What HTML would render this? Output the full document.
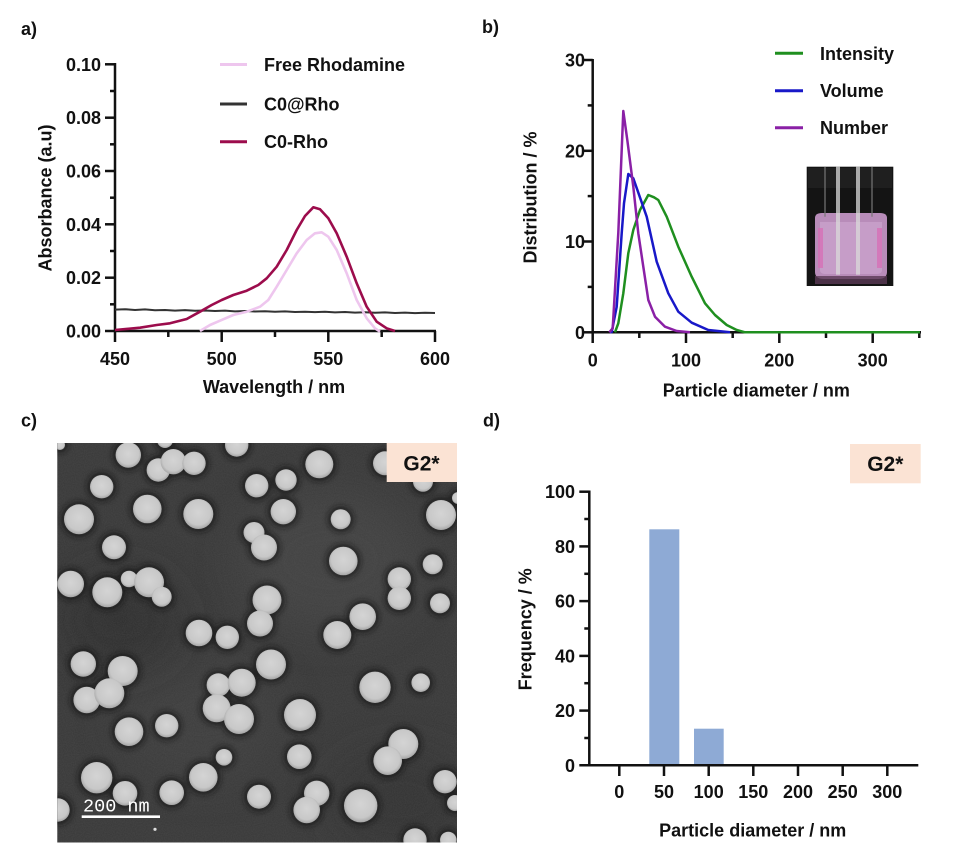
<!DOCTYPE html>
<html><head><meta charset="utf-8"><style>
html,body{margin:0;padding:0;background:#fff;}
svg{display:block;}
text{font-family:"Liberation Sans",Arial,sans-serif;font-weight:bold;font-size:18px;fill:#111;}
</style></head><body>
<svg width="955" height="858" viewBox="0 0 955 858" xmlns="http://www.w3.org/2000/svg">
<defs>
<clipPath id="temclip"><rect x="57.3" y="443" width="399.7" height="399.5"/></clipPath>
<filter id="blur3" x="-50%" y="-50%" width="200%" height="200%"><feGaussianBlur stdDeviation="3"/></filter>
<filter id="blur20" x="-50%" y="-50%" width="200%" height="200%"><feGaussianBlur stdDeviation="22"/></filter>
<filter id="noise" x="0" y="0" width="100%" height="100%">
<feTurbulence type="fractalNoise" baseFrequency="0.9" numOctaves="1" seed="3" result="t"/>
<feColorMatrix type="matrix" values="0 0 0 0 0.15  0 0 0 0 0.15  0 0 0 0 0.15  0 0 0 0.3 0"/>
</filter>
<radialGradient id="pg" cx="50%" cy="45%" r="55%">
<stop offset="0" stop-color="#d4d4d4"/><stop offset="0.75" stop-color="#c8c8c8"/><stop offset="1" stop-color="#a5a5a5"/>
</radialGradient>
</defs>
<rect width="955" height="858" fill="#fff"/>

<!-- ================= PANEL A ================= -->
<text x="21" y="35">a)</text>
<g stroke="#111" stroke-width="2.5" fill="none">
<line x1="115" y1="63" x2="115" y2="332"/>
<line x1="114" y1="331" x2="436" y2="331"/>
<line x1="105" y1="331" x2="115" y2="331"/>
<line x1="105" y1="277.7" x2="115" y2="277.7"/>
<line x1="105" y1="224.3" x2="115" y2="224.3"/>
<line x1="105" y1="171" x2="115" y2="171"/>
<line x1="105" y1="117.7" x2="115" y2="117.7"/>
<line x1="105" y1="64.3" x2="115" y2="64.3"/>
<line x1="110" y1="304.3" x2="115" y2="304.3"/>
<line x1="110" y1="251" x2="115" y2="251"/>
<line x1="110" y1="197.7" x2="115" y2="197.7"/>
<line x1="110" y1="144.3" x2="115" y2="144.3"/>
<line x1="110" y1="91" x2="115" y2="91"/>
<line x1="115" y1="331" x2="115" y2="342"/>
<line x1="221.7" y1="331" x2="221.7" y2="342"/>
<line x1="328.3" y1="331" x2="328.3" y2="342"/>
<line x1="435" y1="331" x2="435" y2="342"/>
<line x1="168.3" y1="331" x2="168.3" y2="337"/>
<line x1="275" y1="331" x2="275" y2="337"/>
<line x1="381.7" y1="331" x2="381.7" y2="337"/>
</g>
<g text-anchor="end">
<text x="101" y="337.5">0.00</text>
<text x="101" y="284.2">0.02</text>
<text x="101" y="230.8">0.04</text>
<text x="101" y="177.5">0.06</text>
<text x="101" y="124.2">0.08</text>
<text x="101" y="70.8">0.10</text>
</g>
<g text-anchor="middle">
<text x="115" y="365">450</text>
<text x="221.7" y="365">500</text>
<text x="328.3" y="365">550</text>
<text x="435" y="365">600</text>
<text x="274" y="393">Wavelength / nm</text>
<text transform="translate(51.5,198) rotate(-90)">Absorbance (a.u)</text>
</g>
<polyline fill="none" stroke="#333" stroke-width="2" points="115,309.6 125,309.2 135,310 145,309.4 155,310.3 165,310 175,310.6 185,310.1 195,310.8 205,310.5 215,311 225,310.6 235,311.4 245,311 255,311.5 265,311.2 275,311.8 285,311.4 295,312 305,311.7 315,312.1 325,311.8 335,312.4 345,312 355,312.6 365,312.3 375,312.8 385,312.4 395,313 405,312.6 415,313.1 425,312.8 435,313"/>
<polyline fill="none" stroke="#eec6ee" stroke-width="2.6" stroke-linejoin="round" points="200,331 210,325 220,320.7 233.3,315 246.7,311.7 260,306.7 268.3,300 276.7,286.7 286.7,270 296.7,253.3 306.7,240 315,233.3 321.7,232.3 328.3,236.7 336.7,250 346.7,273.3 356.7,300 366.7,318.3 375,328.3 380,331.7"/>
<polyline fill="none" stroke="#9c0c4c" stroke-width="2.6" stroke-linejoin="round" points="115,330 140,327.7 156.7,325 170,323.3 186.7,319 200,311.7 211.7,305 221.7,300 233.3,295 246.7,290.7 258.3,285 266.7,278.3 276.7,266.7 286.7,250 296.7,230 305,216 313.3,207.3 320,209.3 328.3,218.3 336.7,233.3 346.7,256.7 356.7,283.3 366.7,306.7 376.7,321.7 386.7,328.3 395,331"/>
<line x1="220" y1="64.5" x2="247" y2="64.5" stroke="#eec6ee" stroke-width="3"/>
<line x1="220" y1="104" x2="247" y2="104" stroke="#333" stroke-width="3"/>
<line x1="220" y1="141.7" x2="247" y2="141.7" stroke="#9c0c4c" stroke-width="3"/>
<text x="264" y="71">Free Rhodamine</text>
<text x="264" y="110.5">C0@Rho</text>
<text x="264" y="148">C0-Rho</text>

<!-- ================= PANEL B ================= -->
<text x="482" y="33">b)</text>
<g stroke="#111" stroke-width="2.5" fill="none">
<line x1="592.7" y1="59" x2="592.7" y2="333"/>
<line x1="591.5" y1="332.3" x2="921" y2="332.3"/>
<line x1="582.7" y1="332.3" x2="592.7" y2="332.3"/>
<line x1="582.7" y1="241.5" x2="592.7" y2="241.5"/>
<line x1="582.7" y1="150.8" x2="592.7" y2="150.8"/>
<line x1="582.7" y1="60" x2="592.7" y2="60"/>
<line x1="587.7" y1="286.9" x2="592.7" y2="286.9"/>
<line x1="587.7" y1="196.1" x2="592.7" y2="196.1"/>
<line x1="587.7" y1="105.4" x2="592.7" y2="105.4"/>
<line x1="592.7" y1="332.3" x2="592.7" y2="343"/>
<line x1="686" y1="332.3" x2="686" y2="343"/>
<line x1="779.3" y1="332.3" x2="779.3" y2="343"/>
<line x1="872.7" y1="332.3" x2="872.7" y2="343"/>
<line x1="639.3" y1="332.3" x2="639.3" y2="338"/>
<line x1="732.7" y1="332.3" x2="732.7" y2="338"/>
<line x1="826" y1="332.3" x2="826" y2="338"/>
<line x1="919.3" y1="332.3" x2="919.3" y2="338"/>
</g>
<g text-anchor="end">
<text x="585" y="338.8">0</text>
<text x="585" y="248">10</text>
<text x="585" y="157.3">20</text>
<text x="585" y="66.5">30</text>
</g>
<g text-anchor="middle">
<text x="592.7" y="366.5">0</text>
<text x="686" y="366.5">100</text>
<text x="779.3" y="366.5">200</text>
<text x="872.7" y="366.5">300</text>
<text x="756.3" y="396.5">Particle diameter / nm</text>
<text transform="translate(536.5,197.5) rotate(-90)">Distribution / %</text>
</g>
<g>
<rect x="806.7" y="166.7" width="86.6" height="119.3" fill="#141414"/>
<rect x="808" y="168" width="84" height="20" fill="#1f1f1f"/>
<path d="M815,218 Q815,213 822,213 L880,213 Q887,213 887,218 L887,272 Q887,279 878,279 L824,279 Q815,279 815,272 Z" fill="#b88cb9"/>
<path d="M820,222 L882,222 L882,270 Q882,274 876,274 L826,274 Q820,274 820,270 Z" fill="#c69dc8"/>
<rect x="818" y="228" width="5" height="40" fill="#d86ab4" opacity="0.7"/>
<rect x="877" y="228" width="5" height="40" fill="#d86ab4" opacity="0.7"/>
<rect x="815" y="276" width="72" height="8" fill="#5a3a55" opacity="0.8"/>
<rect x="836" y="166.7" width="4" height="108" fill="#d9d9d9" opacity="0.75"/>
<rect x="856" y="166.7" width="4" height="108" fill="#d9d9d9" opacity="0.75"/>
<rect x="824" y="166.7" width="2" height="50" fill="#777" opacity="0.6"/>
<rect x="871" y="166.7" width="2" height="50" fill="#777" opacity="0.6"/>
</g>
<polyline fill="none" stroke="#1f8f1f" stroke-width="2.5" stroke-linejoin="round" points="615,332.3 618.3,323.3 623.3,293.3 628.3,253.3 633.3,230 640,210 648.3,195 654,197.3 658.3,200 666.7,216.7 678.3,246.7 691.7,276.7 705,303.3 715,315 726.7,325 736.7,330 745,332.3 920,332.3"/>
<polyline fill="none" stroke="#1818c8" stroke-width="2.5" stroke-linejoin="round" points="610,332.3 611.7,332 616.7,306.7 621.7,233.3 624,203.3 628.3,174 633.3,178.3 646.7,216.7 656.7,261.7 668.3,293.3 678.3,311.7 691.7,322.7 708.3,330 730,332.3"/>
<polyline fill="none" stroke="#8a20a6" stroke-width="2.5" stroke-linejoin="round" points="609.3,332.3 612.7,328.3 618.3,233 623.3,111 627.3,140 633.3,186.7 638.3,233.3 643.3,266.7 648.3,300 655,316.7 665,326.7 676.7,331 690,332.3"/>
<line x1="775" y1="53.3" x2="803" y2="53.3" stroke="#1f8f1f" stroke-width="3"/>
<line x1="775" y1="90.7" x2="803" y2="90.7" stroke="#1818c8" stroke-width="3"/>
<line x1="775" y1="127.7" x2="803" y2="127.7" stroke="#8a20a6" stroke-width="3"/>
<text x="820" y="60">Intensity</text>
<text x="820" y="97">Volume</text>
<text x="820" y="134">Number</text>

<!-- ================= PANEL C ================= -->
<text x="21" y="426.5">c)</text>
<g clip-path="url(#temclip)">
<rect x="57" y="443" width="400" height="400" fill="#373737"/>
<ellipse cx="330" cy="560" rx="90" ry="70" fill="#464646" filter="url(#blur20)" opacity="0.6"/>
<ellipse cx="200" cy="720" rx="80" ry="60" fill="#424242" filter="url(#blur20)" opacity="0.5"/>
<ellipse cx="120" cy="620" rx="60" ry="50" fill="#262626" filter="url(#blur20)" opacity="0.6"/>
<ellipse cx="400" cy="800" rx="70" ry="50" fill="#2a2a2a" filter="url(#blur20)" opacity="0.5"/>
<rect x="57" y="443" width="400" height="400" filter="url(#noise)"/>
<g fill="#121212" opacity="0.7" filter="url(#blur3)">
<circle cx="128.3" cy="455" r="15.7"/><circle cx="158.3" cy="470" r="14.7"/><circle cx="173.3" cy="461.7" r="15.7"/><circle cx="194" cy="463.3" r="14.7"/><circle cx="236.7" cy="445" r="14.7"/><circle cx="165" cy="440" r="11"/><circle cx="101.7" cy="486.7" r="14.7"/><circle cx="147.3" cy="509" r="17.3"/><circle cx="198.3" cy="514" r="18"/><circle cx="79" cy="519.3" r="18"/><circle cx="256.7" cy="485.7" r="14.7"/><circle cx="254" cy="532.5" r="13.5"/><circle cx="264" cy="547.5" r="16"/><circle cx="114" cy="547.3" r="15"/><circle cx="70.7" cy="584" r="16.3"/><circle cx="129" cy="579" r="11.3"/><circle cx="149" cy="582.3" r="18"/><circle cx="161.7" cy="596.7" r="13"/><circle cx="107.3" cy="592.3" r="18"/><circle cx="199" cy="633" r="16.3"/><circle cx="227.3" cy="637.3" r="14.7"/><circle cx="267" cy="600" r="17.5"/><circle cx="260" cy="623.5" r="16"/><circle cx="60" cy="445" r="8"/>
<circle cx="319.3" cy="464.3" r="17"/><circle cx="286" cy="480" r="13.7"/><circle cx="385" cy="463.3" r="15"/><circle cx="423" cy="481.7" r="13"/><circle cx="283.3" cy="511.7" r="15.7"/><circle cx="340.7" cy="519.3" r="13"/><circle cx="441" cy="515" r="18"/><circle cx="458" cy="498" r="9"/><circle cx="343.3" cy="561" r="17.3"/><circle cx="432.7" cy="564.3" r="13"/><circle cx="399.3" cy="579" r="14.7"/><circle cx="399.3" cy="598.3" r="14.7"/><circle cx="440" cy="603.3" r="13"/><circle cx="362.7" cy="616.7" r="16.3"/><circle cx="337.3" cy="635" r="17"/>
<circle cx="83.3" cy="664" r="15.7"/><circle cx="122.7" cy="671" r="18"/><circle cx="86.7" cy="700" r="16.3"/><circle cx="109.3" cy="693.3" r="18"/><circle cx="218.3" cy="685" r="14.7"/><circle cx="241.7" cy="682.7" r="17"/><circle cx="216.7" cy="708.3" r="17"/><circle cx="239" cy="719" r="18"/><circle cx="271" cy="664.5" r="18"/><circle cx="129" cy="731.7" r="17.3"/><circle cx="166.7" cy="725.7" r="14.7"/><circle cx="224" cy="757.3" r="11.3"/><circle cx="96.7" cy="777.7" r="18.7"/><circle cx="203.3" cy="777.3" r="17.3"/><circle cx="125" cy="793.3" r="15.3"/><circle cx="171.7" cy="792.7" r="15.3"/><circle cx="259" cy="796.7" r="15"/><circle cx="58" cy="810" r="14.7"/>
<circle cx="375" cy="687.3" r="18.7"/><circle cx="420.7" cy="682.7" r="12.3"/><circle cx="300" cy="715" r="19"/><circle cx="299.3" cy="756.7" r="15.3"/><circle cx="403.3" cy="744" r="18"/><circle cx="387.7" cy="760.7" r="17.3"/><circle cx="445" cy="781.7" r="14.7"/><circle cx="455" cy="803" r="11"/><circle cx="316.7" cy="793.3" r="15.7"/><circle cx="306.7" cy="810" r="16.3"/><circle cx="360.7" cy="805.7" r="19.7"/><circle cx="415" cy="840" r="14.7"/><circle cx="448.3" cy="840" r="11.3"/>
</g>
<g fill="url(#pg)">
<circle cx="128.3" cy="455" r="12.7"/><circle cx="158.3" cy="470" r="11.7"/><circle cx="173.3" cy="461.7" r="12.7"/><circle cx="194" cy="463.3" r="11.7"/><circle cx="236.7" cy="445" r="11.7"/><circle cx="165" cy="440" r="8"/><circle cx="101.7" cy="486.7" r="11.7"/><circle cx="147.3" cy="509" r="14.3"/><circle cx="198.3" cy="514" r="15"/><circle cx="79" cy="519.3" r="15"/><circle cx="256.7" cy="485.7" r="11.7"/><circle cx="254" cy="532.5" r="10.5"/><circle cx="264" cy="547.5" r="13"/><circle cx="114" cy="547.3" r="12"/><circle cx="70.7" cy="584" r="13.3"/><circle cx="129" cy="579" r="8.3"/><circle cx="149" cy="582.3" r="15"/><circle cx="161.7" cy="596.7" r="10"/><circle cx="107.3" cy="592.3" r="15"/><circle cx="199" cy="633" r="13.3"/><circle cx="227.3" cy="637.3" r="11.7"/><circle cx="267" cy="600" r="14.5"/><circle cx="260" cy="623.5" r="13"/><circle cx="60" cy="445" r="5"/>
<circle cx="319.3" cy="464.3" r="14"/><circle cx="286" cy="480" r="10.7"/><circle cx="385" cy="463.3" r="12"/><circle cx="423" cy="481.7" r="10"/><circle cx="283.3" cy="511.7" r="12.7"/><circle cx="340.7" cy="519.3" r="10"/><circle cx="441" cy="515" r="15"/><circle cx="458" cy="498" r="6"/><circle cx="343.3" cy="561" r="14.3"/><circle cx="432.7" cy="564.3" r="10"/><circle cx="399.3" cy="579" r="11.7"/><circle cx="399.3" cy="598.3" r="11.7"/><circle cx="440" cy="603.3" r="10"/><circle cx="362.7" cy="616.7" r="13.3"/><circle cx="337.3" cy="635" r="14"/>
<circle cx="83.3" cy="664" r="12.7"/><circle cx="122.7" cy="671" r="15"/><circle cx="86.7" cy="700" r="13.3"/><circle cx="109.3" cy="693.3" r="15"/><circle cx="218.3" cy="685" r="11.7"/><circle cx="241.7" cy="682.7" r="14"/><circle cx="216.7" cy="708.3" r="14"/><circle cx="239" cy="719" r="15"/><circle cx="271" cy="664.5" r="15"/><circle cx="129" cy="731.7" r="14.3"/><circle cx="166.7" cy="725.7" r="11.7"/><circle cx="224" cy="757.3" r="8.3"/><circle cx="96.7" cy="777.7" r="15.7"/><circle cx="203.3" cy="777.3" r="14.3"/><circle cx="125" cy="793.3" r="12.3"/><circle cx="171.7" cy="792.7" r="12.3"/><circle cx="259" cy="796.7" r="12"/><circle cx="58" cy="810" r="11.7"/>
<circle cx="375" cy="687.3" r="15.7"/><circle cx="420.7" cy="682.7" r="9.3"/><circle cx="300" cy="715" r="16"/><circle cx="299.3" cy="756.7" r="12.3"/><circle cx="403.3" cy="744" r="15"/><circle cx="387.7" cy="760.7" r="14.3"/><circle cx="445" cy="781.7" r="11.7"/><circle cx="455" cy="803" r="8"/><circle cx="316.7" cy="793.3" r="12.7"/><circle cx="306.7" cy="810" r="13.3"/><circle cx="360.7" cy="805.7" r="16.7"/><circle cx="415" cy="840" r="11.7"/><circle cx="448.3" cy="840" r="8.3"/>
</g>
<circle cx="155" cy="829.3" r="1.6" fill="#ddd"/>
<rect x="386.7" y="443" width="71" height="39" fill="#fbe3d4"/>
</g>
<text x="421.5" y="470.5" text-anchor="middle" style="font-size:21px">G2*</text>
<text x="83" y="811.7" style="font-family:'Liberation Mono',monospace;font-weight:normal;font-size:18.5px;fill:#fff">200 nm</text>
<line x1="81.7" y1="816.7" x2="160" y2="816.7" stroke="#fff" stroke-width="2.6"/>

<!-- ================= PANEL D ================= -->
<text x="483" y="426.5">d)</text>
<rect x="850" y="444" width="70.7" height="39.3" fill="#fbe3d4"/>
<text x="885.3" y="471" text-anchor="middle" style="font-size:21px">G2*</text>
<rect x="649.3" y="529.3" width="30" height="236" fill="#8eaad5"/>
<rect x="694" y="728.7" width="29.7" height="36.6" fill="#8eaad5"/>
<g stroke="#111" stroke-width="2.5" fill="none">
<line x1="589.3" y1="490.5" x2="589.3" y2="766.5"/>
<line x1="579.3" y1="765.3" x2="918.3" y2="765.3"/>
<line x1="579.3" y1="710.6" x2="589.3" y2="710.6"/>
<line x1="579.3" y1="655.9" x2="589.3" y2="655.9"/>
<line x1="579.3" y1="601.1" x2="589.3" y2="601.1"/>
<line x1="579.3" y1="546.4" x2="589.3" y2="546.4"/>
<line x1="579.3" y1="491.7" x2="589.3" y2="491.7"/>
<line x1="584.3" y1="738" x2="589.3" y2="738"/>
<line x1="584.3" y1="683.2" x2="589.3" y2="683.2"/>
<line x1="584.3" y1="628.5" x2="589.3" y2="628.5"/>
<line x1="584.3" y1="573.8" x2="589.3" y2="573.8"/>
<line x1="584.3" y1="519" x2="589.3" y2="519"/>
<line x1="619.3" y1="765.3" x2="619.3" y2="776"/>
<line x1="664" y1="765.3" x2="664" y2="776"/>
<line x1="708.7" y1="765.3" x2="708.7" y2="776"/>
<line x1="753.3" y1="765.3" x2="753.3" y2="776"/>
<line x1="798" y1="765.3" x2="798" y2="776"/>
<line x1="842.7" y1="765.3" x2="842.7" y2="776"/>
<line x1="887.3" y1="765.3" x2="887.3" y2="776"/>
</g>
<g text-anchor="end">
<text x="575" y="771.8">0</text>
<text x="575" y="717.1">20</text>
<text x="575" y="662.4">40</text>
<text x="575" y="607.6">60</text>
<text x="575" y="552.9">80</text>
<text x="575" y="498.2">100</text>
</g>
<g text-anchor="middle">
<text x="619.3" y="798">0</text>
<text x="664" y="798">50</text>
<text x="708.7" y="798">100</text>
<text x="753.3" y="798">150</text>
<text x="798" y="798">200</text>
<text x="842.7" y="798">250</text>
<text x="887.3" y="798">300</text>
<text x="752.7" y="836.5">Particle diameter / nm</text>
<text transform="translate(531.5,629.3) rotate(-90)">Frequency / %</text>
</g>
</svg>
</body></html>
